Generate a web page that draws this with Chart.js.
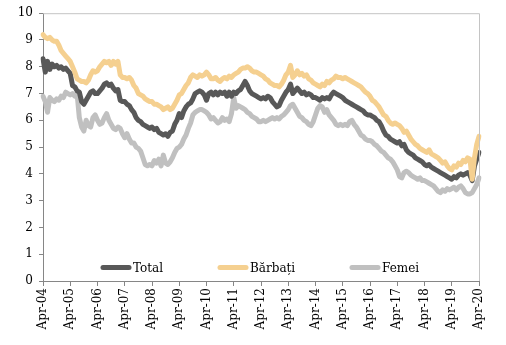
<!DOCTYPE html>
<html>
<head>
<meta charset="utf-8">
<script src="https://cdn.jsdelivr.net/npm/chart.js@4.4.1/dist/chart.umd.min.js"></script>
<style>
  body { margin: 0; background: #fff; }
</style>
</head>
<body>
<canvas id="chart" width="506" height="345"></canvas>
<script>
// monthly series, Apr-04 .. Apr-20
const seriesNames = ["Total", "Bărbați", "Femei"];
const monthNames = ["Jan","Feb","Mar","Apr","May","Jun","Jul","Aug","Sep","Oct","Nov","Dec"];
const firstYear = 2004;

const total = [
  8.3, 7.8, 8.2, 7.9, 8.1, 8.0, 8.05, 7.95, 8.0, 7.9, 7.95, 7.85,
  7.75, 7.3, 7.25, 7.1, 7.05, 6.7, 6.6, 6.75, 6.9, 7.05, 7.1, 7.0,
  7.0, 7.1, 7.2, 7.35, 7.4, 7.3, 7.35, 7.2, 7.1, 7.15, 6.75, 6.7,
  6.7, 6.6, 6.55, 6.4, 6.3, 6.1, 6.0, 5.95, 5.85, 5.8, 5.75, 5.7,
  5.75, 5.65, 5.7, 5.55, 5.5, 5.45, 5.5, 5.4, 5.55, 5.6, 5.85, 6.0,
  6.25, 6.1, 6.35, 6.5, 6.6, 6.65, 6.8, 7.0, 7.05, 7.1, 7.05, 6.95,
  6.75, 7.0, 7.05, 6.95, 7.05, 6.95, 7.05, 7.0, 7.05, 6.9, 7.05, 6.9,
  7.05, 7.0, 7.1, 7.15, 7.3, 7.45, 7.3, 7.1, 7.0, 6.95, 6.9, 6.85,
  6.8, 6.85, 6.8, 6.9, 6.85, 6.7, 6.6, 6.5, 6.55, 6.75, 6.9, 7.05,
  7.15, 7.35, 7.0, 7.1, 7.2, 7.1, 7.0, 7.05, 6.95, 7.0, 6.95, 6.85,
  6.85, 6.8, 6.75, 6.85, 6.8, 6.85, 6.8, 6.95, 7.05, 7.0, 6.95, 6.9,
  6.85, 6.75, 6.7, 6.65, 6.6, 6.55, 6.5, 6.45, 6.4, 6.35, 6.25, 6.2,
  6.2, 6.15, 6.1, 6.0, 5.95, 5.8, 5.6, 5.45, 5.4, 5.3, 5.25, 5.2,
  5.15, 5.2, 5.05, 5.1, 4.9, 4.8, 4.75, 4.7, 4.6, 4.55, 4.5, 4.45,
  4.35, 4.3, 4.35, 4.25, 4.2, 4.15, 4.1, 4.05, 4.0, 3.95, 3.9, 3.85,
  3.8, 3.9, 3.85, 3.95, 4.0, 3.95, 4.0, 4.05, 3.95, 3.75, 4.3, 4.55,
  4.8
];

const barbati = [
  9.2, 9.1, 9.05, 9.1, 9.0, 8.95, 8.95, 8.8, 8.6, 8.5, 8.4, 8.3,
  8.2, 8.0, 7.8, 7.55, 7.5, 7.45, 7.45, 7.4, 7.5, 7.7, 7.85, 7.8,
  7.85, 8.0, 8.1, 8.2, 8.15, 8.2, 8.05, 8.2, 8.1, 8.2, 7.7, 7.6,
  7.6, 7.55, 7.6, 7.5, 7.3, 7.2, 7.0, 6.95, 6.9, 6.8, 6.75, 6.7,
  6.7, 6.6, 6.6, 6.55, 6.5, 6.4, 6.45, 6.5, 6.4, 6.45, 6.6, 6.75,
  6.95, 7.0, 7.15, 7.3, 7.4, 7.6, 7.7, 7.65, 7.6, 7.7, 7.65, 7.7,
  7.8, 7.7, 7.55, 7.55, 7.6, 7.5, 7.45, 7.55, 7.6, 7.55, 7.65, 7.6,
  7.7, 7.75, 7.8, 7.9, 7.95, 7.95, 8.0, 7.95, 7.85, 7.8, 7.8, 7.75,
  7.7, 7.65, 7.55, 7.5, 7.4, 7.35, 7.3, 7.3, 7.25, 7.35, 7.5, 7.7,
  7.8, 8.05, 7.6, 7.7, 7.85, 7.7, 7.75, 7.65, 7.7, 7.55, 7.5, 7.4,
  7.35, 7.3, 7.25, 7.35, 7.3, 7.45, 7.4, 7.5, 7.55, 7.65, 7.6, 7.6,
  7.55, 7.6, 7.55, 7.5, 7.45, 7.4, 7.35, 7.3, 7.25, 7.15, 7.05, 7.0,
  6.9, 6.75, 6.7, 6.6, 6.5, 6.35, 6.2, 6.15, 6.0, 5.9, 5.85, 5.9,
  5.85, 5.8, 5.7, 5.55, 5.6, 5.45, 5.3, 5.2, 5.1, 5.05, 4.95, 4.9,
  4.85, 4.8, 4.9, 4.75, 4.7, 4.65, 4.6, 4.5, 4.4, 4.45, 4.3, 4.2,
  4.15, 4.3, 4.25, 4.4, 4.35, 4.5, 4.45, 4.6, 4.55, 3.8, 4.6, 5.1,
  5.4
];

const femei = [
  6.9, 6.7, 6.3, 6.85, 6.75, 6.7, 6.8, 6.75, 6.9, 6.85, 7.05, 7.0,
  6.95, 7.0, 6.9, 7.0, 6.1, 5.75, 5.6, 6.0, 5.8, 5.75, 6.1, 6.2,
  6.0, 5.85, 5.9, 6.1, 6.25, 6.0, 5.85, 5.7, 5.65, 5.75, 5.7, 5.5,
  5.35, 5.5, 5.3, 5.15, 5.15, 5.0, 4.95, 4.85, 4.6, 4.35, 4.3, 4.35,
  4.3, 4.5, 4.4, 4.55, 4.3, 4.7, 4.4, 4.35, 4.45, 4.6, 4.8, 4.95,
  5.0, 5.1, 5.3, 5.45, 5.7, 5.9, 6.2, 6.3, 6.35, 6.4, 6.4, 6.35,
  6.3, 6.2, 6.05, 6.1, 6.0, 5.9, 5.95, 6.1, 6.0, 6.05, 5.95, 6.25,
  6.85, 6.45, 6.55, 6.5, 6.45, 6.4, 6.3, 6.25, 6.15, 6.1, 6.05, 5.95,
  5.95, 6.0, 5.95, 6.0, 6.05, 6.1, 6.05, 6.1, 6.05, 6.15, 6.2, 6.3,
  6.4, 6.55, 6.6, 6.45, 6.3, 6.15, 6.1, 6.0, 5.95, 5.85, 5.8, 5.95,
  6.2, 6.45, 6.55, 6.5, 6.3, 6.4, 6.2, 6.1, 6.0, 5.85, 5.8, 5.85,
  5.8, 5.85, 5.8, 5.95, 6.0, 5.85, 5.75, 5.6, 5.45, 5.4, 5.3, 5.25,
  5.25, 5.2, 5.1, 5.05, 4.95, 4.85, 4.8, 4.7, 4.6, 4.55, 4.45, 4.3,
  4.15, 3.9, 3.85, 4.05, 4.1, 4.05, 3.95, 3.9, 3.85, 3.8, 3.85, 3.75,
  3.75, 3.7, 3.65, 3.6, 3.55, 3.45, 3.35, 3.3, 3.4, 3.35, 3.45, 3.4,
  3.45, 3.5, 3.4, 3.5, 3.55, 3.45, 3.3, 3.25, 3.25, 3.3, 3.45, 3.6,
  3.85
];

const colors = ["#585858", "#f5d090", "#c0c0c0"];

// month labels, starting Apr-04
const labels = total.map((v, i) => {
  const m = i + 3;
  const y = firstYear + Math.floor(m / 12);
  return monthNames[m % 12] + "-" + String(y % 100).padStart(2, "0");
});

const FONT = "'DejaVu Serif', serif";

// legend drawn inside the plot, on the 0.5 line
const insideLegend = {
  id: "insideLegend",
  afterDraw(chart) {
    const ctx = chart.ctx;
    const area = chart.chartArea;
    const y = chart.scales.y.getPixelForValue(0.5);
    const starts = [60, 177, 309];
    ctx.save();
    // top and right frame
    ctx.strokeStyle = "#c4c4c4";
    ctx.lineWidth = 1;
    ctx.beginPath();
    ctx.moveTo(area.left, area.top + 0.5);
    ctx.lineTo(area.right + 0.5, area.top + 0.5);
    ctx.lineTo(area.right + 0.5, area.bottom);
    ctx.stroke();
    chart.data.datasets.forEach((ds, i) => {
      const x = area.left + starts[i];
      ctx.strokeStyle = ds.borderColor;
      ctx.lineWidth = 5;
      ctx.lineCap = "round";
      ctx.beginPath();
      ctx.moveTo(x, y);
      ctx.lineTo(x + 26, y);
      ctx.stroke();
      ctx.fillStyle = "#000";
      ctx.font = "12px " + FONT;
      ctx.textBaseline = "middle";
      ctx.fillText(ds.label, x + 30, y + 1);
    });
    ctx.restore();
  }
};

const lineStyle = {
  borderWidth: 5,
  pointRadius: 0,
  tension: 0,
  borderJoinStyle: "round",
  borderCapStyle: "round",
  fill: false
};

new Chart(document.getElementById("chart"), {
  type: "line",
  data: {
    labels: labels,
    datasets: [
      { label: seriesNames[0], data: total, borderColor: colors[0], order: 1, ...lineStyle },
      { label: seriesNames[1], data: barbati, borderColor: colors[1], order: 0, ...lineStyle },
      { label: seriesNames[2], data: femei, borderColor: colors[2], order: 2, ...lineStyle }
    ]
  },
  options: {
    responsive: false,
    animation: false,
    layout: { padding: { top: 8, right: 27, left: 0, bottom: 0 } },
    plugins: { legend: { display: false }, tooltip: { enabled: false } },
    scales: {
      x: {
        offset: false,
        grid: { drawOnChartArea: false, tickLength: 5, color: "#868686" },
        border: { color: "#868686" },
        ticks: {
          autoSkip: false,
          maxRotation: 90,
          minRotation: 90,
          padding: 2,
          color: "#000",
          font: { family: FONT, size: 12 },
          callback: (v, i) => (i % 12 === 0 ? labels[i] : null)
        },
        afterFit: s => { s.height = 64; }
      },
      y: {
        min: 0,
        max: 10,
        grid: { drawOnChartArea: false, tickLength: 4, color: "#868686" },
        border: { color: "#868686" },
        ticks: {
          stepSize: 1,
          padding: 6,
          color: "#000",
          font: { family: FONT, size: 12 }
        },
        afterFit: s => { s.width = 43; }
      }
    }
  },
  plugins: [insideLegend]
});
</script>
</body>
</html>
